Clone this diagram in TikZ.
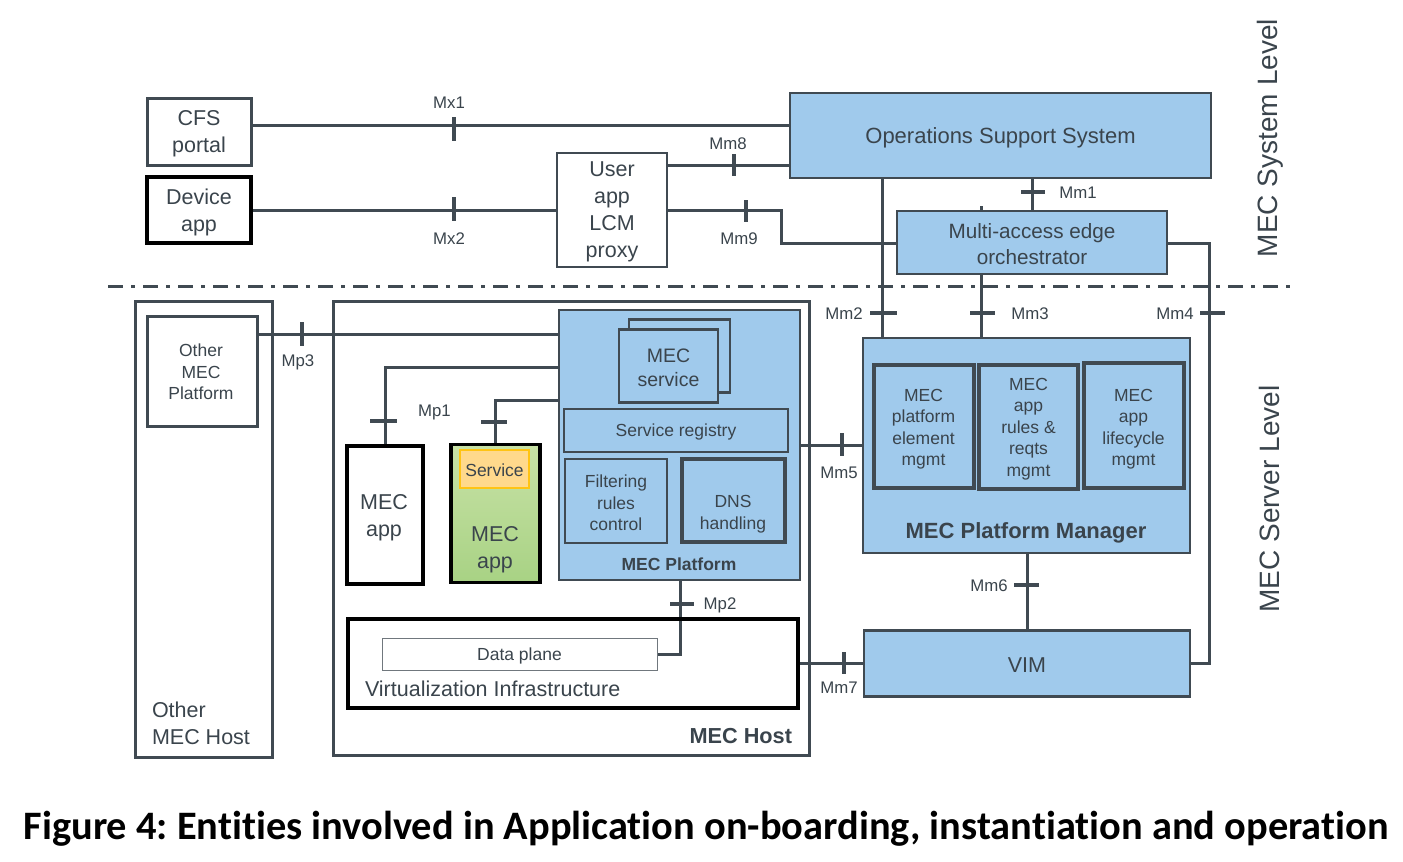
\documentclass[tikz,border=0pt]{standalone}
\usepackage{fontspec}
\setmainfont{Liberation Sans}
\newfontfamily\capfont{Carlito}[Ligatures=NoCommon]
\usetikzlibrary{backgrounds}
\definecolor{lc}{RGB}{64,74,82}
\definecolor{tc}{RGB}{58,68,76}
\definecolor{bl}{RGB}{160,202,236}
\definecolor{gtop}{RGB}{200,226,166}
\definecolor{gbot}{RGB}{168,210,132}
\definecolor{ofill}{RGB}{255,217,140}
\definecolor{oline}{RGB}{255,196,20}
\newcommand{\myfs}[2]{\fontsize{#1}{#2}\selectfont}
\frenchspacing
\begin{document}
\begin{tikzpicture}[x=1pt,y=-1pt,
  every node/.style={inner sep=0pt, outer sep=0pt, text=tc},
  gbox/.style={draw=lc, line width=2.6pt, align=center},
  bbox/.style={draw=black, line width=3.5pt, align=center},
  bluebox/.style={gbox, fill=bl},
  conn/.style={draw=lc, line width=3pt},
  tk/.style={draw=lc, line width=3.5pt},
  fbig/.style={font=\myfs{21.5}{27}},
  fmid/.style={font=\myfs{17.5}{21.5}},
  flab/.style={font=\myfs{16.8}{20}},
]
\useasboundingbox (0,0) rectangle (1403,862);

% ---------- system level ----------
\node[gbox, line width=3pt, minimum width=104pt, minimum height=67pt] (cfs) at (199,131.5) {};
\node[fbig, align=center] (cfsl) at (199,133.5) {CFS\\portal};
\node[bbox, minimum width=104pt, minimum height=66pt] (dev) at (199,210) {};
\node[fbig, align=center] (devl) at (199,212) {Device\\app};
\node[gbox, minimum width=110pt, minimum height=114pt] (proxy) at (612,210) {};
\node[fbig, align=center] (proxyl) at (612,212) {User\\app\\LCM\\proxy};
\node[bluebox, minimum width=421pt, minimum height=85pt] (oss) at (1000.5,135.5) {};
\node[font=\myfs{22}{27}] (ossl) at (1000.5,137.5) {Operations Support System};
\node[bluebox, minimum width=270pt, minimum height=63pt] (meo) at (1032,242.5) {};
\node[font=\myfs{20.7}{26}, align=center] (meol) at (1032,244.5) {Multi-access edge\\orchestrator};

\node[rotate=90, font=\myfs{28}{32}] (sysl) at (1270,138) {MEC System Level};
\node[rotate=90, font=\myfs{28}{32}] (srvl) at (1269,499) {MEC Server Level};

% ---------- other MEC host ----------
\node[gbox, line width=3pt, minimum width=137pt, minimum height=456pt] (omh) at (204,529) {};
\node[anchor=west, align=left, fbig] (omhl) at (152,723) {Other\\MEC Host};
\node[gbox, line width=3pt, minimum width=110pt, minimum height=110pt] (omp) at (202,371) {};
\node[fmid, align=center] (ompl) at (201,372) {Other\\MEC\\Platform};

% ---------- MEC host ----------
\node[gbox, line width=3pt, minimum width=476pt, minimum height=454pt] (host) at (571,528.5) {};
\node[anchor=east, font=\bfseries\myfs{21.7}{26}] (hostl) at (792,736) {MEC Host};

\node[bluebox, minimum width=241pt, minimum height=270pt] (plat) at (679.5,445) {};
\node[font=\bfseries\myfs{17.5}{21}] (platl) at (679,564) {MEC Platform};
\node[bluebox, minimum width=101pt, minimum height=73pt] (svcb) at (679.5,356) {};
\node[bluebox, minimum width=99pt, minimum height=73pt] (svc) at (668.5,366) {};
\node[font=\myfs{19.5}{24}, align=center] (svcl) at (668.5,368) {MEC\\service};
\node[bluebox, minimum width=224pt, minimum height=43pt] (reg) at (676,430.5) {};
\node[fmid] (regl) at (676,432) {Service registry};
\node[bluebox, minimum width=102pt, minimum height=84pt] (filt) at (616,501) {};
\node[fmid, align=center] (filtl) at (616,503) {Filtering\\rules\\control};
\node[bluebox, line width=4pt, minimum width=103pt, minimum height=83pt] (dns) at (733.5,500.5) {};
\node[fmid, align=center] (dnsl) at (733,514) {DNS\\handling};

\node[bbox, fill=white, minimum width=76pt, minimum height=138pt] (app1) at (385,515) {};
\node[fbig, align=center] (app1l) at (384,518) {MEC\\app};
\node[bbox, top color=gtop, bottom color=gbot, minimum width=89pt, minimum height=138pt] (app2) at (495.5,513.5) {};
\node[fbig, align=center] (app2l) at (495,550) {MEC\\app};
\node[draw=oline, line width=1.2pt, fill=ofill, minimum width=69pt, minimum height=38pt] (srv) at (494.5,469) {};
\node[fmid] (srvlab) at (494.5,470.5) {Service};

\node[bbox, minimum width=450pt, minimum height=89pt] (vi) at (573,663.5) {};
\node[anchor=west, fbig] (vil) at (365,689) {Virtualization Infrastructure};
\node[draw=lc!75, line width=1pt, minimum width=275pt, minimum height=32pt] (dp) at (519.5,654) {};
\node[font=\myfs{17.5}{21}] (dpl) at (519.5,656) {Data plane};

% ---------- platform manager / VIM ----------
\node[bluebox, minimum width=327pt, minimum height=215pt] (pm) at (1026.5,445.5) {};
\node[font=\bfseries\myfs{22}{26}] (pml) at (1026,533) {MEC Platform Manager};
\node[bluebox, line width=4pt, minimum width=100pt, minimum height=123pt] (pe) at (923.5,426.5) {};
\node[fmid, align=center] (pel) at (923.5,429) {MEC\\platform\\element\\mgmt};
\node[bluebox, line width=4pt, minimum width=99pt, minimum height=124pt] (ar) at (1028.5,427) {};
\node[fmid, align=center] (arl) at (1028.5,429) {MEC\\app\\rules \&\\reqts\\mgmt};
\node[bluebox, line width=4pt, minimum width=100pt, minimum height=125pt] (lcm) at (1134,425.5) {};
\node[fmid, align=center] (lcml) at (1133.5,429) {MEC\\app\\lifecycle\\mgmt};
\node[bluebox, minimum width=326pt, minimum height=66pt] (vim) at (1027,663.5) {};
\node[fbig] (viml) at (1027,665) {VIM};

% ---------- interface labels ----------
\node[flab] (lmx1) at (449,103) {Mx1};
\node[flab] (lmx2) at (449,239) {Mx2};
\node[flab] (lmm8) at (728,144) {Mm8};
\node[flab] (lmm9) at (739,239) {Mm9};
\node[flab] (lmm1) at (1078,193) {Mm1};
\node[flab] (lmm2) at (844,314) {Mm2};
\node[flab] (lmm3) at (1030,314) {Mm3};
\node[flab] (lmm4) at (1175,314) {Mm4};
\node[flab] (lmp3) at (298,362) {Mp3};
\node[flab] (lmp1) at (434.5,412) {Mp1};
\node[flab] (lmm5) at (839,473) {Mm5};
\node[flab] (lmm6) at (989,586) {Mm6};
\node[flab] (lmm7) at (839,688) {Mm7};
\node[flab] (lmp2) at (720,605) {Mp2};

% ---------- caption ----------
\node[font=\capfont\bfseries\myfs{40.4}{48}, text=black] (cap) at (706,829) {Figure 4: Entities involved in Application on-boarding, instantiation and operation};

% ---------- connectors ----------
\begin{scope}[on background layer]
\draw[lc, line width=3pt, dash pattern=on 15pt off 8pt on 4pt off 8pt] (108,286) -- (1296,286);
\draw[conn] (cfs.east |- 0,125) -- (oss.west |- 0,125);
\draw[conn] (dev.east) -- (proxy.west |- dev.east);
\draw[conn] (proxy.east |- 0,165) -- (oss.west |- 0,165);
\draw[conn] (proxy.east |- 0,210) -- (781,210) -- (781,243) -- (meo.west |- 0,243);
\draw[conn] (1032,0 |- oss.south) -- (1032,0 |- meo.north);
\draw[conn] (882,0 |- oss.south) -- (882,0 |- pm.north);
\draw[conn] (981,206) -- (981,0 |- pm.north);
\draw[conn] (meo.east |- 0,243) -- (1209,243) -- (1209,663) -- (vim.east |- 0,663);
\draw[conn] (omp.east |- 0,334) -- (plat.west |- 0,334);
\draw[conn] (app1.north) -- (app1.north |- 0,367) -- (plat.west |- 0,367);
\draw[conn] (app2.north) -- (app2.north |- 0,400) -- (plat.west |- 0,400);
\draw[conn] (plat.east |- 0,445) -- (pm.west |- 0,445);
\draw[conn] (680,0 |- plat.south) -- (680,654) -- (dp.east |- 0,654);
\draw[conn] (vi.east |- 0,663) -- (vim.west |- 0,663);
\draw[conn] (1027,0 |- pm.south) -- (1027,0 |- vim.north);
\end{scope}

% ---------- ticks ----------
\draw[tk] (454,117) -- (454,141);
\draw[tk] (454,197) -- (454,221);
\draw[tk] (734,154) -- (734,176);
\draw[tk] (746,200) -- (746,222);
\draw[tk] (1021,192) -- (1045,192);
\draw[tk] (870,313) -- (897,313);
\draw[tk] (970,313) -- (995,313);
\draw[tk] (1200,313) -- (1225,313);
\draw[tk] (302,322) -- (302,346);
\draw[tk] (370,421) -- (397,421);
\draw[tk] (481,422) -- (507,422);
\draw[tk] (842,433) -- (842,456);
\draw[tk] (1014,585) -- (1039,585);
\draw[tk] (844,652) -- (844,674);
\draw[tk] (670,604) -- (694,604);
\end{tikzpicture}
\end{document}
